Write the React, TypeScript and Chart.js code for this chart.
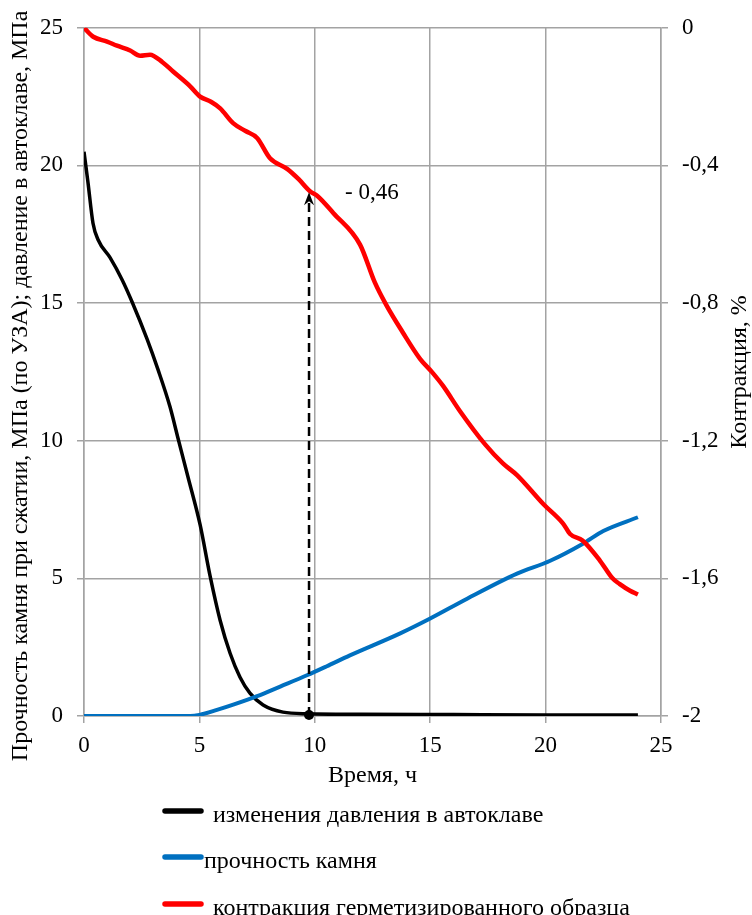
import React, { useEffect, useRef } from "react";
import { Chart, registerables } from "chart.js";

Chart.register(...registerables);

const FONT = "'Liberation Serif', 'Times New Roman', serif";

// Pressure in autoclave, MPa (left axis)
const pressureTime = [0, 0.17, 0.39, 0.61, 1.13, 1.65, 2.08, 2.73, 3.2, 3.72, 4.07, 4.5, 5.03, 5.46, 5.9, 6.33, 6.76, 7.19, 7.76, 8.62, 9.7, 12, 16, 20, 24];
const pressureMPa = [20.5, 19.4, 17.9, 17.3, 16.65, 15.85, 15.05, 13.7, 12.6, 11.25, 10.1, 8.7, 6.95, 5.1, 3.47, 2.28, 1.41, 0.83, 0.4, 0.14, 0.08, 0.06, 0.05, 0.04, 0.04];

// Stone strength, MPa (left axis)
const strengthTime = [0, 4.6, 5.0, 5.76, 6.5, 7.5, 8.5, 9.66, 10.5, 11.52, 13.7, 15, 16.6, 18.76, 20.2, 21.6, 22.5, 24];
const strengthMPa = [0, 0, 0.04, 0.22, 0.42, 0.72, 1.07, 1.48, 1.8, 2.2, 3.0, 3.54, 4.26, 5.17, 5.64, 6.25, 6.72, 7.22];

// Contraction, % (right axis)
const contractionTime = [0, 0.4, 1.0, 1.43, 2.0, 2.43, 2.86, 3.4, 3.86, 4.6, 5.03, 5.5, 5.9, 6.46, 7.0, 7.5, 8.06, 8.8, 9.3, 9.79, 10.1, 10.8, 11.96, 12.6, 13.1, 13.8, 14.56, 15.07, 15.55, 16.3, 17.37, 18.15, 18.76, 19.9, 20.75, 21.06, 21.6, 22.36, 22.9, 23.2, 23.66, 24];
const contractionPct = [0, -0.026, -0.04, -0.052, -0.066, -0.081, -0.078, -0.1, -0.127, -0.17, -0.2, -0.215, -0.234, -0.277, -0.3, -0.32, -0.379, -0.41, -0.44, -0.475, -0.488, -0.538, -0.63, -0.74, -0.806, -0.884, -0.962, -1.0, -1.04, -1.115, -1.21, -1.266, -1.3, -1.384, -1.44, -1.471, -1.49, -1.549, -1.6, -1.616, -1.636, -1.647];

const seriesLabels = [
  "изменения давления в автоклаве",
  "прочность камня",
  "контракция герметизированного образца",
];
const seriesColors = ["#000000", "#0070C0", "#FF0000"];

const xTitle = "Время, ч";
const yTitle = "Прочность камня при сжатии, МПа (по УЗА); давление в автоклаве, МПа";
const y2Title = "Контракция, %";

const annotationTime = 9.75;
const annotationValue = -0.475;
const annotationLabel = "- 0,46";

const GRID = "#a3a3a3";

const toPoints = (xs: number[], ys: number[]) => xs.map((x, i) => ({ x, y: ys[i] }));

const fmtComma = (v: number) => {
  if (Math.abs(v - Math.round(v)) < 1e-9) return String(Math.round(v));
  return v.toFixed(1).replace(".", ",");
};

const decorPlugin = {
  id: "decor",
  afterDatasetsDraw(chart: any) {
    const ctx = chart.ctx;
    const { x, y, y2 } = chart.scales;
    const area = chart.chartArea;
    ctx.save();
    // dashed arrow
    const ax = x.getPixelForValue(annotationTime);
    const ay0 = y.getPixelForValue(0);
    const ay1 = y2.getPixelForValue(annotationValue);
    ctx.strokeStyle = "#000";
    ctx.lineWidth = 2.5;
    ctx.setLineDash([9, 5]);
    ctx.beginPath();
    ctx.moveTo(ax, ay0);
    ctx.lineTo(ax, ay1 + 8);
    ctx.stroke();
    ctx.setLineDash([]);
    ctx.fillStyle = "#000";
    ctx.beginPath();
    ctx.moveTo(ax, ay1 + 1);
    ctx.lineTo(ax - 5, ay1 + 14);
    ctx.lineTo(ax, ay1 + 10);
    ctx.lineTo(ax + 5, ay1 + 14);
    ctx.closePath();
    ctx.fill();
    ctx.beginPath();
    ctx.arc(ax, ay0 - 1, 5, 0, Math.PI * 2);
    ctx.fill();
    ctx.font = `23px ${FONT}`;
    ctx.textAlign = "left";
    ctx.textBaseline = "middle";
    ctx.fillText(annotationLabel, ax + 36, ay1 + 2);

    // axis titles
    ctx.font = `24px ${FONT}`;
    ctx.textAlign = "center";
    ctx.textBaseline = "middle";
    const cy = (area.top + area.bottom) / 2;
    ctx.save();
    ctx.translate(21, cy + 14);
    ctx.rotate(-Math.PI / 2);
    ctx.fillText(yTitle, 0, 0);
    ctx.restore();
    ctx.save();
    ctx.translate(740, cy);
    ctx.rotate(-Math.PI / 2);
    ctx.fillText(y2Title, 0, 0);
    ctx.restore();
    ctx.fillText(xTitle, (area.left + area.right) / 2, 776);

    // legend
    const rows = [811, 857, 904];
    const textX = [213, 204, 213];
    ctx.textAlign = "left";
    ctx.textBaseline = "alphabetic";
    seriesLabels.forEach((lab, i) => {
      ctx.strokeStyle = seriesColors[i];
      ctx.lineWidth = 5.5;
      ctx.lineCap = "round";
      ctx.beginPath();
      ctx.moveTo(165, rows[i]);
      ctx.lineTo(201, rows[i]);
      ctx.stroke();
      ctx.fillStyle = "#000";
      ctx.fillText(lab, textX[i], rows[i] + 11);
    });
    ctx.restore();
  },
};

export default function App() {
  const ref = useRef<HTMLCanvasElement>(null);
  useEffect(() => {
    document.body.style.margin = "0";
    const tickFont = { family: FONT, size: 23 };
    const chart = new Chart(ref.current as HTMLCanvasElement, {
      type: "line",
      data: {
        datasets: [
          {
            label: seriesLabels[0],
            data: toPoints(pressureTime, pressureMPa),
            borderColor: seriesColors[0],
            borderWidth: 3.5,
            pointRadius: 0,
            cubicInterpolationMode: "monotone",
            yAxisID: "y",
            order: 2,
          },
          {
            label: seriesLabels[1],
            data: toPoints(strengthTime, strengthMPa),
            borderColor: seriesColors[1],
            borderWidth: 4,
            pointRadius: 0,
            cubicInterpolationMode: "monotone",
            yAxisID: "y",
            order: 1,
          },
          {
            label: seriesLabels[2],
            data: toPoints(contractionTime, contractionPct),
            borderColor: seriesColors[2],
            borderWidth: 4.5,
            pointRadius: 0,
            cubicInterpolationMode: "monotone",
            yAxisID: "y2",
            order: 0,
          },
        ] as any,
      },
      options: {
        animation: false,
        responsive: false,
        layout: { padding: { top: 24, bottom: 125, left: 0, right: 0 } },
        plugins: { legend: { display: false }, tooltip: { enabled: false } },
        scales: {
          x: {
            type: "linear",
            min: 0,
            max: 25,
            ticks: { stepSize: 5, font: tickFont, color: "#000", padding: 9, maxRotation: 0 },
            grid: { color: GRID, lineWidth: 1.5, tickLength: 7 },
            border: { color: GRID, width: 1.5 },
            afterFit: (s: any) => { s.height = 74; },
          },
          y: {
            position: "left",
            min: 0,
            max: 25,
            ticks: { stepSize: 5, font: tickFont, color: "#000", padding: 14 },
            grid: { color: GRID, lineWidth: 1.5, tickLength: 7 },
            border: { color: GRID, width: 1.5 },
            afterFit: (s: any) => { s.width = 84; },
          },
          y2: {
            position: "right",
            min: -2,
            max: 0,
            ticks: { stepSize: 0.4, font: tickFont, color: "#000", padding: 14, callback: (v: any) => fmtComma(Number(v)) },
            grid: { drawOnChartArea: false, color: GRID, lineWidth: 1.5, tickLength: 7 },
            border: { color: GRID, width: 1.5 },
            afterFit: (s: any) => { s.width = 91; },
          },
        },
      } as any,
      plugins: [decorPlugin],
    });
    return () => chart.destroy();
  }, []);
  return <canvas ref={ref} width={752} height={915} style={{ display: "block" }} />;
}
